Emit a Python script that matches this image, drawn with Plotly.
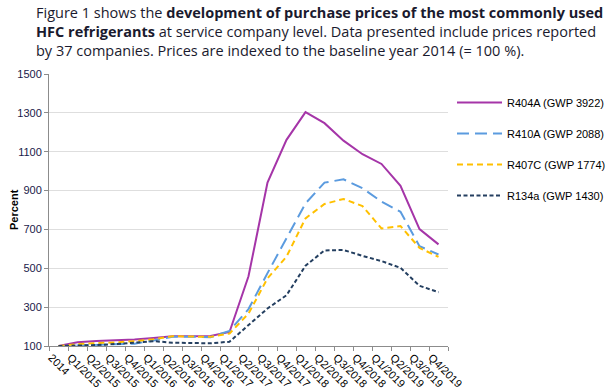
import plotly.graph_objects as go

categories = ["2014", "Q1/2015", "Q2/2015", "Q3/2015", "Q4/2015", "Q1/2016", "Q2/2016",
              "Q3/2016", "Q4/2016", "Q1/2017", "Q2/2017", "Q3/2017", "Q4/2017", "Q1/2018",
              "Q2/2018", "Q3/2018", "Q4/2018", "Q1/2019", "Q2/2019", "Q3/2019", "Q4/2019"]

r404a = [100, 119, 126, 128, 133, 141, 150, 150, 152, 172, 459, 941, 1161, 1304, 1247, 1157, 1087, 1037, 924, 702, 623]
r410a = [100, 103, 106, 108, 112, 128, 148, 148, 145, 178, 290, 475, 654, 834, 941, 958, 912, 843, 791, 614, 571]
r407c = [100, 110, 115, 118, 125, 135, 150, 150, 147, 164, 267, 448, 560, 757, 831, 857, 820, 705, 717, 605, 559]
r134a = [100, 102, 105, 110, 118, 125, 117, 115, 114, 122, 210, 293, 361, 513, 592, 594, 564, 537, 502, 410, 377]

series = [
    ("R404A (GWP 3922)", r404a, "#A535A8", "solid"),
    ("R410A (GWP 2088)", r410a, "#5B9BDF", "12px,6px"),
    ("R407C (GWP 1774)", r407c, "#FFC000", "6px,4px"),
    ("R134a (GWP 1430)", r134a, "#243F60", "4px,2.5px"),
]

fig = go.Figure()
for i, (name, vals, col, dash) in enumerate(series):
    fig.add_trace(go.Scatter(x=categories, y=vals, name=name, mode="lines",
                             line=dict(color=col, width=2, dash=dash),
                             legendgroup=str(i)))

W, H = 608, 392
fig.update_layout(
    width=W, height=H,
    margin=dict(l=49, r=160, t=74, b=46, autoexpand=False),
    paper_bgcolor="white", plot_bgcolor="white",
    font=dict(family="Arial, Liberation Sans, sans-serif", size=11, color="#000"),
    showlegend=True,
    legend=dict(xref="container", yref="container", x=452 / W, y=1 - 88 / H,
                xanchor="left", yanchor="top", bgcolor="rgba(0,0,0,0)",
                font=dict(size=11, color="#000"), tracegroupgap=12,
                itemwidth=45),
    xaxis=dict(type="category", range=[-0.5, 20.5], tickangle=45, automargin=False,
               tickson="boundaries", ticks="outside", ticklen=4, tickcolor="#8c8c8c",
               showline=True, linecolor="#8c8c8c", linewidth=1, showgrid=False,
               ticklabelshift=-7,
               tickfont=dict(size=11, color="#000")),
    yaxis=dict(range=[100, 1500], dtick=200, tick0=100, ticks="outside", ticklen=4,
               automargin=False,
               tickcolor="#8c8c8c", showline=True, linecolor="#8c8c8c", linewidth=1,
               gridcolor="#dedede", zeroline=False,
               tickfont=dict(size=11, color="#1a1a4a")),
)

fig.add_annotation(text="<b>Percent</b>", xref="paper", yref="paper",
                   x=-(49 - 14) / 399, y=0.5, xanchor="center", yanchor="middle",
                   textangle=-90, showarrow=False, font=dict(size=11, color="#000"))

title_text = ("Figure 1 shows the <b>development of purchase prices of the most commonly used</b><br>"
              "<b>HFC refrigerants</b> at service company level. Data presented include prices reported<br>"
              "by 37 companies. Prices are indexed to the baseline year 2014 (= 100 %).")
fig.add_annotation(text=title_text, xref="paper", yref="paper", x=-(49 - 34) / 399,
                   y=1 + (74 - 1) / 272, xanchor="left", yanchor="top", align="left",
                   showarrow=False,
                   font=dict(family="Open Sans, sans-serif", size=14.5, color="#1a1a2e"))

fig.write_html("out.html", config={"displayModeBar": False},
               post_script="document.body.style.margin='0';")
